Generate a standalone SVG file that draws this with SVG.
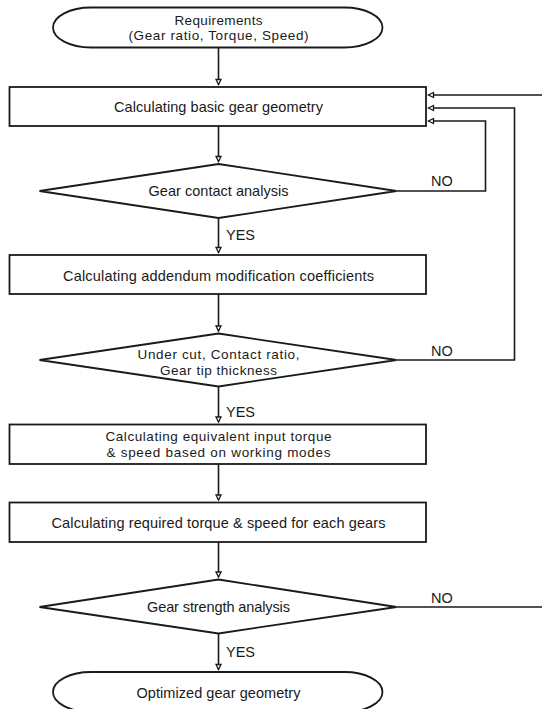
<svg xmlns="http://www.w3.org/2000/svg" width="542" height="709" viewBox="0 0 542 709">
  <defs>
    <marker id="arr" markerUnits="userSpaceOnUse" markerWidth="8" markerHeight="8" refX="5" refY="2.5" orient="auto" overflow="visible">
      <path d="M0,0 L5,2.5 L0,5 Z" fill="#fff" stroke="#1a1a1a" stroke-width="1.3"/>
    </marker>
    <style>
      .shape { fill: #fff; stroke: #1a1a1a; stroke-width: 1.8; }
      .conn { fill: none; stroke: #1a1a1a; stroke-width: 1.6; }
      .arrow { marker-end: url(#arr); }
      text { font-family: "Liberation Sans", Arial, sans-serif; font-size: 14.5px; fill: #1a1a1a; dominant-baseline: central; }
      .c { text-anchor: middle; }
      .s { font-size: 13.5px; }
    </style>
  </defs>
  <rect width="542" height="709" fill="#fff"/>

  <g id="connectors">
    <path class="conn arrow" d="M218.5,47.5 V84.5"/>
    <path class="conn arrow" d="M218.5,126 V161.5"/>
    <path class="conn arrow" d="M218.5,218 V252.5"/>
    <path class="conn arrow" d="M218.5,294 V331"/>
    <path class="conn arrow" d="M218.5,386.5 V422"/>
    <path class="conn arrow" d="M218.5,464 V500"/>
    <path class="conn arrow" d="M218.5,542 V577"/>
    <path class="conn arrow" d="M218.5,633.5 V669.5"/>
    <path class="conn arrow" d="M396.5,191 H485.5 V121 H428.5"/>
    <path class="conn arrow" d="M396.5,360 H514.5 V108 H428.5"/>
    <path class="conn arrow" d="M396.5,607 H560 V95 H428.5"/>
    <text x="431" y="181">NO</text>
    <text x="431" y="351">NO</text>
    <text x="431" y="598">NO</text>
    <text x="226" y="235">YES</text>
    <text x="226" y="412">YES</text>
    <text x="226" y="652">YES</text>
  </g>

  <g id="start">
    <rect class="shape" x="53" y="7.5" width="329.5" height="40" rx="38" ry="20"/>
    <text class="c s" x="218.5" y="20" textLength="88">Requirements</text>
    <text class="c s" x="218.5" y="35.5" textLength="180">(Gear ratio, Torque, Speed)</text>
  </g>

  <g id="basic-geometry">
    <rect class="shape" x="9.5" y="87" width="416.5" height="39"/>
    <text class="c" x="218.5" y="107" textLength="209">Calculating basic gear geometry</text>
  </g>

  <g id="contact-analysis">
    <polygon class="shape" points="218.5,164 396.5,191 218.5,218 39.5,191"/>
    <text class="c" x="218.5" y="191" textLength="140">Gear contact analysis</text>
  </g>

  <g id="addendum">
    <rect class="shape" x="9.5" y="255" width="416.5" height="39"/>
    <text class="c" x="218.5" y="276" textLength="311">Calculating addendum modification coefficients</text>
  </g>

  <g id="undercut-check">
    <polygon class="shape" points="218.5,333.5 396.5,360 218.5,386.5 39.5,360"/>
    <text class="c s" x="218.5" y="354.5" textLength="162">Under cut, Contact ratio,</text>
    <text class="c s" x="218.5" y="370" textLength="117">Gear tip thickness</text>
  </g>

  <g id="equivalent-torque">
    <rect class="shape" x="9.5" y="424.5" width="416.5" height="39.5"/>
    <text class="c s" x="218.5" y="436.5" textLength="226">Calculating equivalent input torque</text>
    <text class="c s" x="218.5" y="452" textLength="224">&amp; speed based on working modes</text>
  </g>

  <g id="required-torque">
    <rect class="shape" x="9.5" y="502.5" width="416.5" height="39.5"/>
    <text class="c" x="218.5" y="523" textLength="334">Calculating required torque &amp; speed for each gears</text>
  </g>

  <g id="strength-analysis">
    <polygon class="shape" points="218.5,579.5 396.5,607 218.5,633.5 39.5,607"/>
    <text class="c" x="218.5" y="607" textLength="143">Gear strength analysis</text>
  </g>

  <g id="end">
    <rect class="shape" x="53" y="672" width="329.5" height="40" rx="38" ry="20"/>
    <text class="c" x="218.5" y="693" textLength="164">Optimized gear geometry</text>
  </g>
</svg>
